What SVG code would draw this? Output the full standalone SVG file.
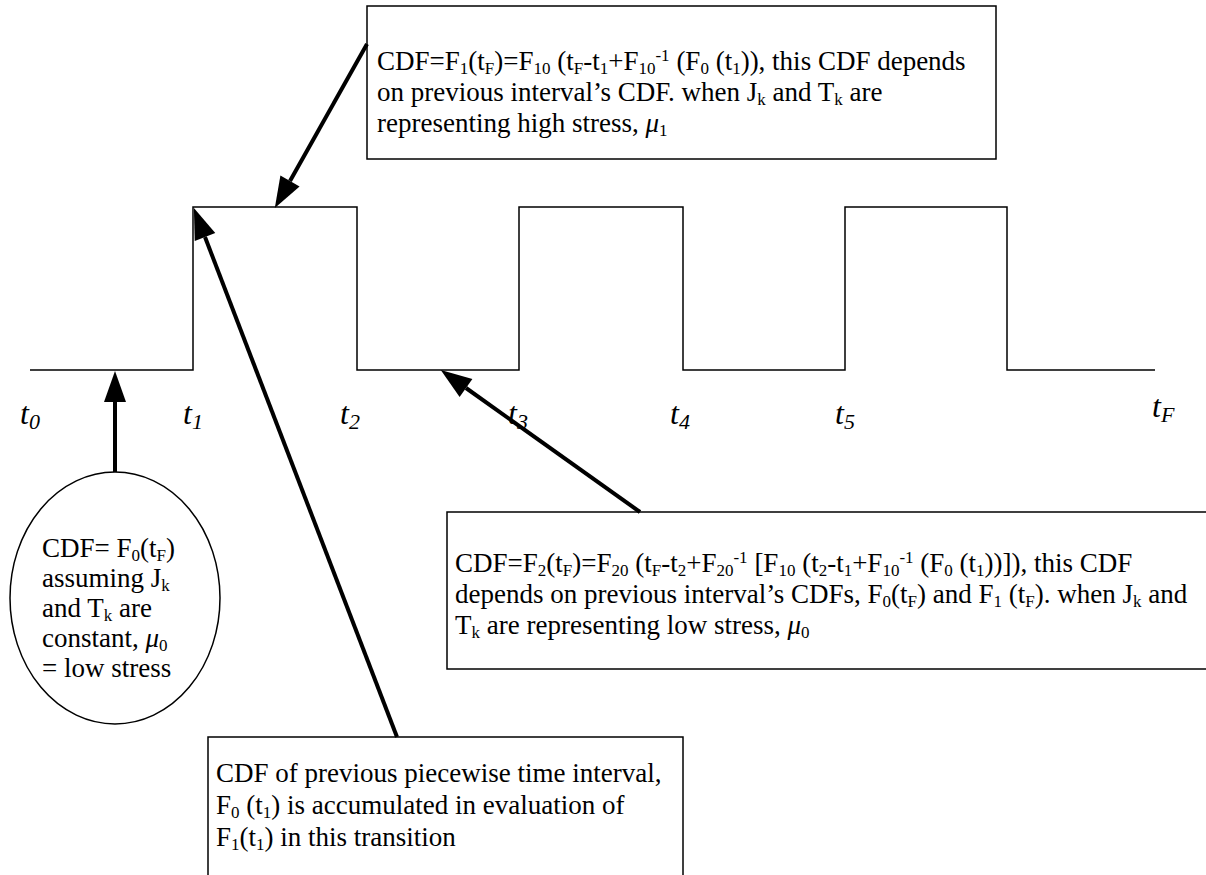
<svg xmlns="http://www.w3.org/2000/svg" width="1206" height="875" viewBox="0 0 1206 875">
<style>
.box{fill:#fff;stroke:#000;stroke-width:1.5}
.t{font-family:"Liberation Serif","Times New Roman",serif;font-size:27px;fill:#000}
.s{font-size:17px;baseline-shift:-4px}
.p{font-size:17px;baseline-shift:9px}
.lab{font-family:"Liberation Serif","Times New Roman",serif;font-style:italic;font-size:32px;fill:#000}
.ls{font-size:22px;baseline-shift:-5px}
.wave{fill:none;stroke:#000;stroke-width:1.5}
.arr{stroke:#000;stroke-width:4;fill:none;marker-end:url(#ah)}
</style>
<defs>
<marker id="ah" markerUnits="userSpaceOnUse" markerWidth="40" markerHeight="30" refX="0" refY="11" orient="auto" overflow="visible">
<path d="M0,0 L31,11 L0,22 z" fill="#000"/>
</marker>
</defs>
<rect width="1206" height="875" fill="#fff"/>
<g id="waveform">
<path class="wave" d="M30,370 H193 V207 H357 V370 H519 V207 H683 V370 H845 V207 H1007 V370 H1155"/>
</g>
<g id="labels">
<text class="lab" x="20" y="424">t<tspan class="ls">0</tspan></text>
<text class="lab" x="183" y="424">t<tspan class="ls">1</tspan></text>
<text class="lab" x="340" y="424">t<tspan class="ls">2</tspan></text>
<text class="lab" x="508" y="424">t<tspan class="ls">3</tspan></text>
<text class="lab" x="670" y="424">t<tspan class="ls">4</tspan></text>
<text class="lab" x="835" y="424">t<tspan class="ls">5</tspan></text>
<text class="lab" x="1152" y="417">t<tspan class="ls">F</tspan></text>
</g>
<g id="box-high">
<rect class="box" x="367" y="6" width="629" height="153"/>
<text class="t" x="377" y="70">CDF=F<tspan class="s">1</tspan>(t<tspan class="s">F</tspan>)=F<tspan class="s">10</tspan> (t<tspan class="s">F</tspan>-t<tspan class="s">1</tspan>+F<tspan class="s">10</tspan><tspan class="p">-1</tspan> (F<tspan class="s">0</tspan> (t<tspan class="s">1</tspan>)), this CDF depends</text>
<text class="t" x="377" y="101">on previous interval’s CDF. when  J<tspan class="s">k</tspan> and T<tspan class="s">k</tspan>  are</text>
<text class="t" x="377" y="132">representing high stress, <tspan font-style="italic">μ</tspan><tspan class="s">1</tspan></text>
</g>
<g id="ellipse-low">
<ellipse class="box" cx="115" cy="598" rx="105" ry="126"/>
<text class="t" x="42" y="557">CDF= F<tspan class="s">0</tspan>(t<tspan class="s">F</tspan>)</text>
<text class="t" x="42" y="587">assuming J<tspan class="s">k</tspan></text>
<text class="t" x="42" y="617">and T<tspan class="s">k</tspan> are</text>
<text class="t" x="42" y="647">constant,  <tspan font-style="italic">μ</tspan><tspan class="s">0</tspan></text>
<text class="t" x="42" y="677">= low stress</text>
</g>
<g id="box-low">
<rect class="box" x="447" y="512" width="780" height="157"/>
<text class="t" x="455" y="572">CDF=F<tspan class="s">2</tspan>(t<tspan class="s">F</tspan>)=F<tspan class="s">20</tspan> (t<tspan class="s">F</tspan>-t<tspan class="s">2</tspan>+F<tspan class="s">20</tspan><tspan class="p">-1</tspan> [F<tspan class="s">10</tspan> (t<tspan class="s">2</tspan>-t<tspan class="s">1</tspan>+F<tspan class="s">10</tspan><tspan class="p">-1</tspan> (F<tspan class="s">0</tspan> (t<tspan class="s">1</tspan>))]), this CDF</text>
<text class="t" x="455" y="603">depends on previous interval’s CDFs, F<tspan class="s">0</tspan>(t<tspan class="s">F</tspan>) and F<tspan class="s">1</tspan> (t<tspan class="s">F</tspan>). when  J<tspan class="s">k</tspan> and</text>
<text class="t" x="455" y="634">T<tspan class="s">k</tspan>  are representing low stress, <tspan font-style="italic">μ</tspan><tspan class="s">0</tspan></text>
</g>
<g id="box-transition">
<rect class="box" x="208" y="737" width="475" height="160"/>
<text class="t" x="216" y="782">CDF of previous piecewise time interval,</text>
<text class="t" x="216" y="814">F<tspan class="s">0</tspan> (t<tspan class="s">1</tspan>) is accumulated in evaluation of</text>
<text class="t" x="216" y="846">F<tspan class="s">1</tspan>(t<tspan class="s">1</tspan>)  in this transition</text>
</g>
<g id="connectors">
<line class="arr" x1="367" y1="44" x2="290" y2="181"/>
<line class="arr" x1="115" y1="472" x2="115" y2="402"/>
<line class="arr" x1="397" y1="737" x2="205" y2="237"/>
<line class="arr" x1="640" y1="512" x2="466" y2="388"/>
</g>
</svg>
